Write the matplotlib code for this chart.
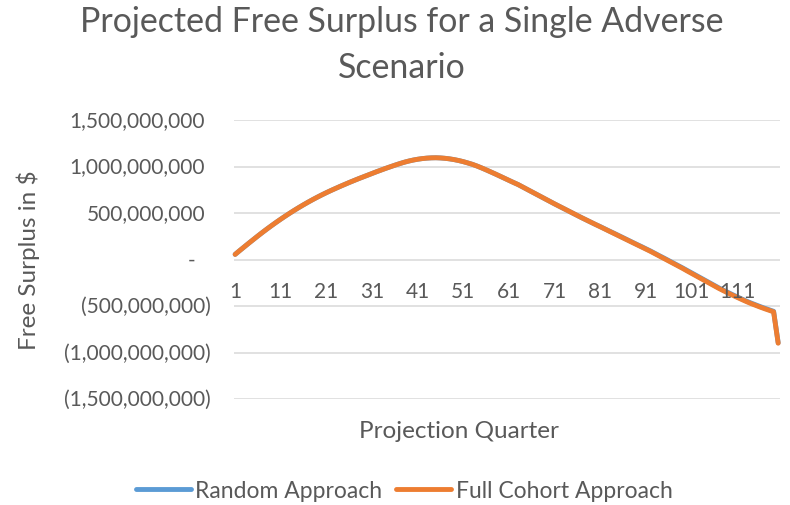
import matplotlib
matplotlib.use("Agg")
import matplotlib.pyplot as plt
import numpy as np

plt.rcParams['font.family'] = ['Lato', 'DejaVu Sans']

# Free surplus by projection quarter, in $ millions
full_cohort = [
    55, 96, 136, 176, 215, 254, 292, 329, 365, 400,
    434, 467, 499, 530, 560, 589, 617, 644, 670, 695,
    719, 742, 764, 786, 807, 828, 848, 868, 887, 906,
    925, 944, 962, 980, 997, 1014, 1030, 1045, 1058, 1069,
    1078, 1085, 1090, 1093, 1094, 1092, 1088, 1082, 1074, 1064,
    1052, 1038, 1023, 1005, 985, 964, 942, 920, 897, 874,
    851, 828, 806, 780, 754, 728, 702, 676, 650, 624,
    598, 573, 548, 523, 498, 473, 448, 424, 400, 376,
    352, 328, 304, 280, 256, 232, 208, 184, 160, 136,
    112, 88, 62, 36, 10, -16, -42, -68, -94, -122,
    -149, -176, -203, -230, -257, -284, -311, -336, -360, -384,
    -407, -430, -452, -473, -492, -511, -529, -546, -563, -900,
]
random_approach = [
    55, 96, 136, 176, 215, 254, 292, 329, 365, 400,
    434, 467, 499, 530, 560, 589, 617, 644, 670, 695,
    719, 742, 764, 786, 807, 828, 848, 868, 887, 906,
    925, 944, 962, 980, 997, 1014, 1030, 1045, 1058, 1069,
    1078, 1085, 1090, 1093, 1094, 1092, 1088, 1082, 1074, 1064,
    1052, 1038, 1023, 1005, 985, 964, 942, 920, 897, 874,
    851, 828, 806, 780, 754, 728, 702, 676, 650, 624,
    598, 573, 548, 523, 498, 473, 448, 424, 400, 376,
    354, 330, 306, 283, 259, 235, 211, 187, 163, 140,
    116, 92, 66, 40, 15, -11, -37, -63, -89, -116,
    -143, -170, -197, -224, -251, -278, -305, -330, -354, -378,
    -401, -424, -446, -467, -486, -505, -523, -540, -557, -895,
]
quarters = list(range(1, len(full_cohort) + 1))
x_tick_labels = list(range(1, 112, 10))
y_ticks = [1500, 1000, 500, 0, -500, -1000, -1500]

TEXT = '#595959'
GRID = '#D9D9D9'
BLUE = '#5B9BD5'
ORANGE = '#ED7D31'

fig = plt.figure(figsize=(7.9, 5.06), dpi=100)
W, H = 790, 506
ax = fig.add_axes([234 / W, 1 - 400 / H, (780 - 234) / W, (400 - 121) / H])

ax.set_xlim(0.75, 120.4)
ax.set_ylim(-1500, 1500)

for yv in y_ticks:
    ax.axhline(yv, color=GRID, lw=1.1, zorder=0)

ax.plot(quarters, random_approach, color=BLUE, lw=3.5, solid_capstyle='round',
        solid_joinstyle='round', zorder=2, clip_on=False, label='Random Approach')
ax.plot(quarters, full_cohort, color=ORANGE, lw=3.5, solid_capstyle='round',
        solid_joinstyle='round', zorder=3, clip_on=False, label='Full Cohort Approach')

for s in ax.spines.values():
    s.set_visible(False)
ax.set_xticks([])
ax.set_yticks([])

# x tick labels sit under the zero line
for q in x_tick_labels:
    ax.annotate(str(q), xy=(q, 0), xytext=(0, -23), textcoords='offset points',
                ha='center', va='center', fontsize=15, color=TEXT)

# y tick labels in accounting format
ytr = ax.get_yaxis_transform()
for yv in y_ticks:
    v = yv * 1_000_000
    if v > 0:
        ax.annotate(f"{v:,.0f}", xy=(0, yv), xycoords=ytr, xytext=(-29, 0),
                    textcoords='offset pixels', ha='right', va='center',
                    fontsize=15, color=TEXT)
    elif v < 0:
        ax.annotate(f"({-v:,.0f})", xy=(0, yv), xycoords=ytr, xytext=(-23, 0),
                    textcoords='offset pixels', ha='right', va='center',
                    fontsize=15, color=TEXT)
    else:
        ax.annotate("-", xy=(0, yv), xycoords=ytr, xytext=(-42, 0),
                    textcoords='offset pixels', ha='center', va='center',
                    fontsize=15, color=TEXT)

fig.text(402 / W, 1 - 45 / H, "Projected Free Surplus for a Single Adverse\nScenario",
         ha='center', va='center', fontsize=24.4, color=TEXT, linespacing=1.55)
fig.text(28 / W, 1 - 260 / H, "Free Surplus in $", rotation=90, ha='center',
         va='center', fontsize=17.5, color=TEXT)
fig.text(459 / W, 1 - 432 / H, "Projection Quarter", ha='center', va='center',
         fontsize=17.5, color=TEXT)

leg = fig.legend(loc='center', bbox_to_anchor=(404 / W, 1 - 492 / H), ncol=2,
                 frameon=False, fontsize=16.5, handlelength=2.4, handletextpad=0.2,
                 columnspacing=0.6, labelcolor=TEXT)
for line in leg.get_lines():
    line.set_linewidth(3.5)
    line.set_solid_capstyle('round')

fig.savefig('out.png', dpi=100)
